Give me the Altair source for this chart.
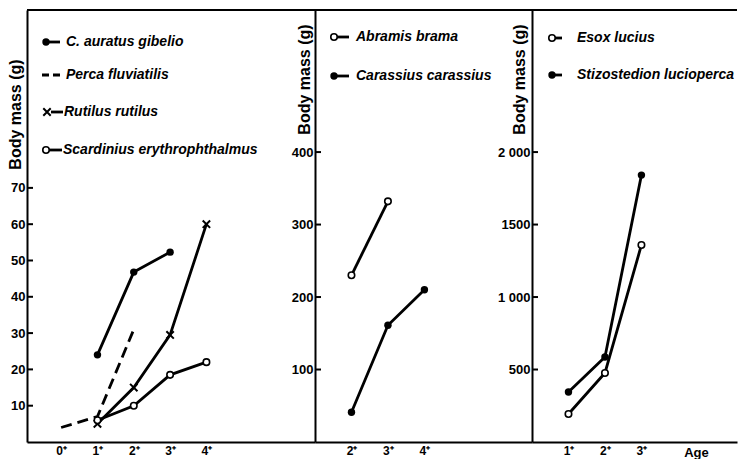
import altair as alt
import pandas as pd

FONT = "Liberation Sans"

# ---------------- data ----------------
gibelio_age = [1, 2, 3]
gibelio_mass = [24, 46.8, 52.3]
perca_age = [0, 1, 2]
perca_mass = [4, 7, 31]
rutilus_age = [1, 2, 3, 4]
rutilus_mass = [5, 15, 29.5, 60]
scard_age = [1, 2, 3, 4]
scard_mass = [6, 10, 18.5, 22]

abramis_age = [2, 3]
abramis_mass = [230, 332]
carassius_age = [2, 3, 4]
carassius_mass = [41, 161, 210]

esox_age = [1, 2, 3]
esox_mass = [193, 476, 1359]
stizo_age = [1, 2, 3]
stizo_mass = [345, 586, 1841]

p1_xticks = [0, 1, 2, 3, 4]
p1_yticks = [10, 20, 30, 40, 50, 60, 70]
p2_xticks = [2, 3, 4]
p2_yticks = [100, 200, 300, 400]
p3_xticks = [1, 2, 3]
p3_yticks = [500, 1000, 1500, 2000]
p3_ylabels = ["500", "1 000", "1500", "2 000"]

Y_TITLE = "Body mass (g)"
X_TITLE3 = "Age"

CROSS = "M-1,-1L1,1M1,-1L-1,1"
H = 432
dummy = pd.DataFrame({"d": [0]})


def df(age, mass):
    return pd.DataFrame({"age": age, "mass": mass})


def marker(kind):
    if kind == "filled":
        return alt.Chart(dummy).mark_point(shape="circle", filled=True, color="black", size=55, opacity=1)
    if kind == "open":
        return alt.Chart(dummy).mark_point(shape="circle", filled=True, fill="white", stroke="black",
                                           strokeWidth=1.6, size=42, opacity=1)
    if kind == "cross":
        return alt.Chart(dummy).mark_point(shape=CROSS, filled=False, color="black", strokeWidth=2,
                                           size=55, opacity=1)
    return None


def panel(W, xdom, ydom, xticks, yticks, ylabel_expr, series, legend, title_x, title_y, xtitle=None):
    xs = alt.Scale(domain=xdom, nice=False, zero=False)
    ys = alt.Scale(domain=ydom, nice=False, zero=False)
    xkw = dict(values=xticks, labelExpr="datum.value + '⁺'", grid=False, ticks=False,
               domain=True, domainWidth=2, domainColor="black", labelFont=FONT, labelFontSize=12,
               labelFontWeight="bold", labelColor="black", labelPadding=3)
    if xtitle:
        xkw.update(title=xtitle, titleX=164, titleY=10, titleAlign="center", titleBaseline="middle",
                   titleFont=FONT, titleFontSize=13, titleFontWeight="bold", titleColor="black")
    else:
        xkw.update(title="")
    xaxis = alt.Axis(**xkw)
    yaxis = alt.Axis(values=yticks, labelExpr=ylabel_expr, grid=False, ticks=False,
                     domain=True, domainWidth=2, domainColor="black", labelFont=FONT, labelFontSize=13,
                     labelFontWeight="bold", labelColor="black", labelPadding=2,
                     title=Y_TITLE, titleAngle=270, titleX=title_x, titleY=title_y,
                     titleAlign="center", titleBaseline="middle", titleFont=FONT,
                     titleFontSize=16, titleFontWeight="bold", titleColor="black")
    layers = []
    for age, mass, kind, dash in series:
        d = df(age, mass)
        enc = dict(x=alt.X("age:Q", scale=xs, axis=xaxis), y=alt.Y("mass:Q", scale=ys, axis=yaxis))
        lkw = dict(color="black", strokeWidth=2.8)
        if dash:
            lkw["strokeDash"] = [11, 6]
        layers.append(alt.Chart(d).mark_line(**lkw).encode(**enc))
        m = marker(kind)
        if m is not None:
            layers.append(m.properties(data=d).encode(**enc))
    # inner ticks on y axis
    layers.append(alt.Chart(pd.DataFrame({"mass": yticks})).mark_rule(color="black", strokeWidth=2).encode(
        y=alt.Y("mass:Q", scale=ys, axis=yaxis), x=alt.value(0), x2=alt.value(6)))
    # top border
    layers.append(alt.Chart(dummy).mark_rule(color="black", strokeWidth=2).encode(
        x=alt.value(0), x2=alt.value(W), y=alt.value(0)))
    # legend
    for (name, kind, dash, ypos, xsym, xl0, xl1, xt) in legend:
        rkw = dict(color="black", strokeWidth=2.8)
        if dash:
            rkw["strokeDash"] = [7, 4]
        layers.append(alt.Chart(dummy).mark_rule(**rkw).encode(
            x=alt.value(xl0), x2=alt.value(xl1), y=alt.value(ypos)))
        m = marker(kind)
        if m is not None:
            layers.append(m.encode(x=alt.value(xsym), y=alt.value(ypos)))
        layers.append(alt.Chart(dummy).mark_text(text=name, align="left", baseline="middle",
                                                 font=FONT, fontSize=14, fontWeight="bold",
                                                 fontStyle="italic", color="black").encode(
            x=alt.value(xt), y=alt.value(ypos)))
    return alt.layer(*layers).properties(width=W, height=H)


p1 = panel(
    288, [-0.94, 6.99], [0, 119.0], p1_xticks, p1_yticks, "datum.value", [
        (gibelio_age, gibelio_mass, "filled", False),
        (perca_age, perca_mass, None, True),
        (rutilus_age, rutilus_mass, "cross", False),
        (scard_age, scard_mass, "open", False),
    ], [
        ("C. auratus gibelio", "filled", False, 32, 19, 19, 33, 39),
        ("Perca fluviatilis", None, True, 65, 19, 15, 35, 39),
        ("Rutilus rutilus", "cross", False, 102, 20, 24, 36, 37),
        ("Scardinius erythrophthalmus", "open", False, 140, 19, 19, 35, 36),
    ], -12, 104)

p2 = panel(
    217, [1, 6.95], [0, 596], p2_xticks, p2_yticks, "datum.value", [
        (abramis_age, abramis_mass, "open", False),
        (carassius_age, carassius_mass, "filled", False),
    ], [
        ("Abramis brama", "open", False, 27, 19, 19, 34, 41),
        ("Carassius carassius", "filled", False, 66, 19, 19, 34, 41),
    ], -11, 69)

ylab3 = "{" + ", ".join(f"'{v}': '{l}'" for v, l in zip(p3_yticks, p3_ylabels)) + "}[datum.value]"
p3 = panel(
    205, [0, 5.62], [0, 2980], p3_xticks, p3_yticks, ylab3, [
        (esox_age, esox_mass, "open", False),
        (stizo_age, stizo_mass, "filled", False),
    ], [
        ("Esox lucius", "open", False, 28, 20, 20, 30, 45),
        ("Stizostedion lucioperca", "filled", False, 65, 20, 20, 30, 45),
    ], -13, 69, xtitle=X_TITLE3)

chart = alt.hconcat(p1, p2, p3, spacing=0, bounds="flush").properties(
    padding={"left": -2, "top": 1, "right": 0, "bottom": 0},
    background="white",
).configure_view(stroke=None)

chart.save("out.html", embed_options={"renderer": "svg", "actions": False})
